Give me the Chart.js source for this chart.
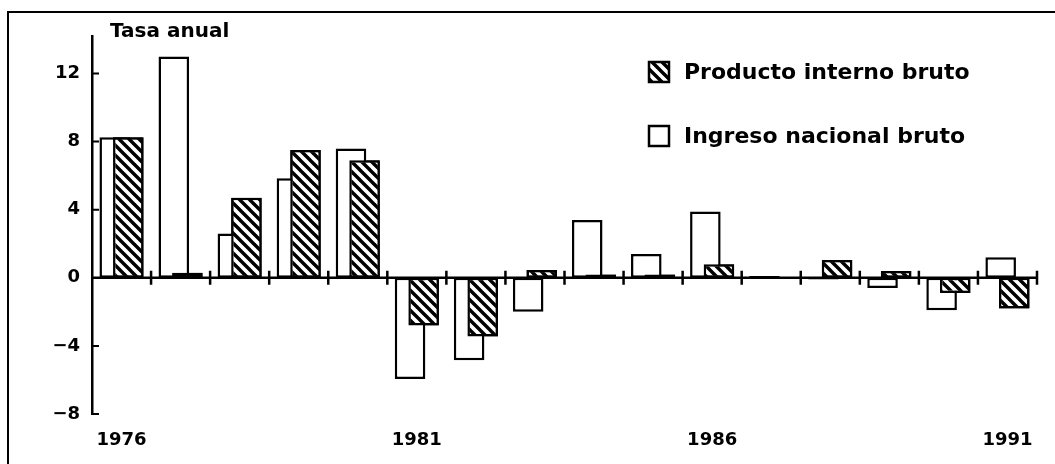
<!DOCTYPE html>
<html>
<head>
<meta charset="utf-8">
<script src="https://cdn.jsdelivr.net/npm/chart.js@4.4.1/dist/chart.umd.min.js"></script>
<style>
  html, body { margin: 0; padding: 0; background: #fff; }
  #wrap { width: 1055px; height: 464px; position: relative; }
</style>
</head>
<body>
<div id="wrap"><canvas id="grafico"></canvas></div>
<script>
const years = ['1976', '1977', '1978', '1979', '1980', '1981', '1982', '1983',
               '1984', '1985', '1986', '1987', '1988', '1989', '1990', '1991'];
const labeledYears = ['1976', '1981', '1986', '1991'];
// Ingreso nacional bruto (barras blancas)
const ingresoNacional = [8.25, 13.0, 2.6, 5.85, 7.6, -5.95, -4.85, -2.0,
                         3.4, 1.4, 3.9, 0.1, -0.1, -0.6, -1.9, 1.2];
// Producto interno bruto (barras rayadas)
const productoInterno = [8.25, 0.3, 4.7, 7.5, 6.9, -2.8, -3.45, 0.45,
                         0.2, 0.2, 0.8, 0.05, 1.05, 0.4, -0.9, -1.8];
const yTicks = [-8, -4, 0, 4, 8, 12];

const FONT = 'DejaVu Sans';

// trama diagonal para el PIB
function makeHatch() {
    const c = document.createElement('canvas');
    c.width = 10; c.height = 10;
    const g = c.getContext('2d');
    g.fillStyle = '#fff';
    g.fillRect(0, 0, 10, 10);
    g.strokeStyle = '#000';
    g.lineWidth = 3.4;
    g.beginPath();
    g.moveTo(-1, -1); g.lineTo(11, 11);
    g.moveTo(-6, 4); g.lineTo(6, 16);
    g.moveTo(4, -6); g.lineTo(16, 6);
    g.stroke();
    return g.createPattern(c, 'repeat');
}
const hatch = makeHatch();

const decoPlugin = {
    id: 'deco',
    afterDatasetsDraw(chart) {
        // el PIB va encima del ingreso
        chart.getDatasetMeta(1).controller.draw();

        const ctx = chart.ctx;
        const x = chart.scales.x, y = chart.scales.y;
        const area = chart.chartArea;
        const y0 = y.getPixelForValue(0);
        const step = x.width / years.length;
        ctx.save();
        ctx.strokeStyle = '#000';
        ctx.lineWidth = 2.5;
        ctx.beginPath();
        ctx.moveTo(area.left, y0);
        ctx.lineTo(area.right, y0);
        for (let i = 1; i <= years.length; i++) {
            const px = area.left + i * step;
            ctx.moveTo(px, y0 - 7);
            ctx.lineTo(px, y0 + 7);
        }
        ctx.stroke();
        // marcas del eje y hacia dentro
        ctx.lineWidth = 2;
        ctx.beginPath();
        yTicks.forEach(v => {
            if (v === 0) return;
            const py = y.getPixelForValue(v);
            ctx.moveTo(area.left, py);
            ctx.lineTo(area.left + 7, py);
        });
        ctx.stroke();
        ctx.restore();
    },
    afterDraw(chart) {
        const ctx = chart.ctx;
        const area = chart.chartArea;
        ctx.save();
        // marco
        ctx.strokeStyle = '#000';
        ctx.lineWidth = 2;
        ctx.beginPath();
        ctx.moveTo(1055, 12);
        ctx.lineTo(8, 12);
        ctx.lineTo(8, 464);
        ctx.stroke();

        ctx.fillStyle = '#000';
        ctx.font = 'bold 20px ' + FONT;
        ctx.textBaseline = 'middle';
        ctx.fillText('Tasa anual', area.left + 18, 32);

        // leyenda
        const items = [
            { text: 'Producto interno bruto', fill: hatch, y: 72 },
            { text: 'Ingreso nacional bruto', fill: '#fff', y: 136 }
        ];
        ctx.font = 'bold 22px ' + FONT;
        items.forEach(it => {
            ctx.fillStyle = it.fill;
            ctx.fillRect(649, it.y - 10, 20, 20);
            ctx.lineWidth = 2.5;
            ctx.strokeRect(649, it.y - 10, 20, 20);
            ctx.fillStyle = '#000';
            ctx.fillText(it.text, 684, it.y + 1);
        });
        ctx.restore();
    }
};

const ctx = document.getElementById('grafico').getContext('2d');
const chart = new Chart(ctx, {
    type: 'bar',
    data: {
        labels: years,
        datasets: [{
            label: 'Ingreso nacional bruto',
            data: ingresoNacional,
            backgroundColor: '#fff',
            borderColor: '#000',
            borderWidth: 2.5,
            borderSkipped: false
        }, {
            label: 'Producto interno bruto',
            data: productoInterno,
            backgroundColor: hatch,
            borderColor: '#000',
            borderWidth: 2.5,
            borderSkipped: false
        }]
    },
    options: {
        responsive: true,
        maintainAspectRatio: false,
        animation: false,
        devicePixelRatio: 1,
        categoryPercentage: 0.46,
        barPercentage: 2.25,
        layout: { padding: { left: 0, right: 18, top: 36, bottom: 0 } },
        plugins: {
            legend: { display: false },
            tooltip: { enabled: false },
            title: { display: false }
        },
        scales: {
            x: {
                grid: { display: false, drawTicks: false },
                border: { display: false },
                afterFit: s => { s.height = 50; },
                ticks: {
                    autoSkip: false,
                    maxRotation: 0,
                    padding: 16,
                    color: '#000',
                    font: { family: FONT, size: 18, weight: 'bold' },
                    callback: function (v, i) {
                        const lab = years[i];
                        return labeledYears.includes(lab) ? lab : '';
                    }
                }
            },
            y: {
                min: -8,
                max: 14.2,
                afterFit: s => { s.width = 92; },
                afterBuildTicks: s => {
                    s.ticks = yTicks.map(v => ({ value: v }));
                },
                grid: { display: false, drawTicks: false },
                border: { display: true, color: '#000', width: 2.5 },
                ticks: {
                    padding: 12,
                    color: '#000',
                    font: { family: FONT, size: 18, weight: 'bold' },
                    callback: v => (v < 0 ? '\u2212' + Math.abs(v) : String(v))
                }
            }
        }
    },
    plugins: [decoPlugin]
});
</script>
</body>
</html>
